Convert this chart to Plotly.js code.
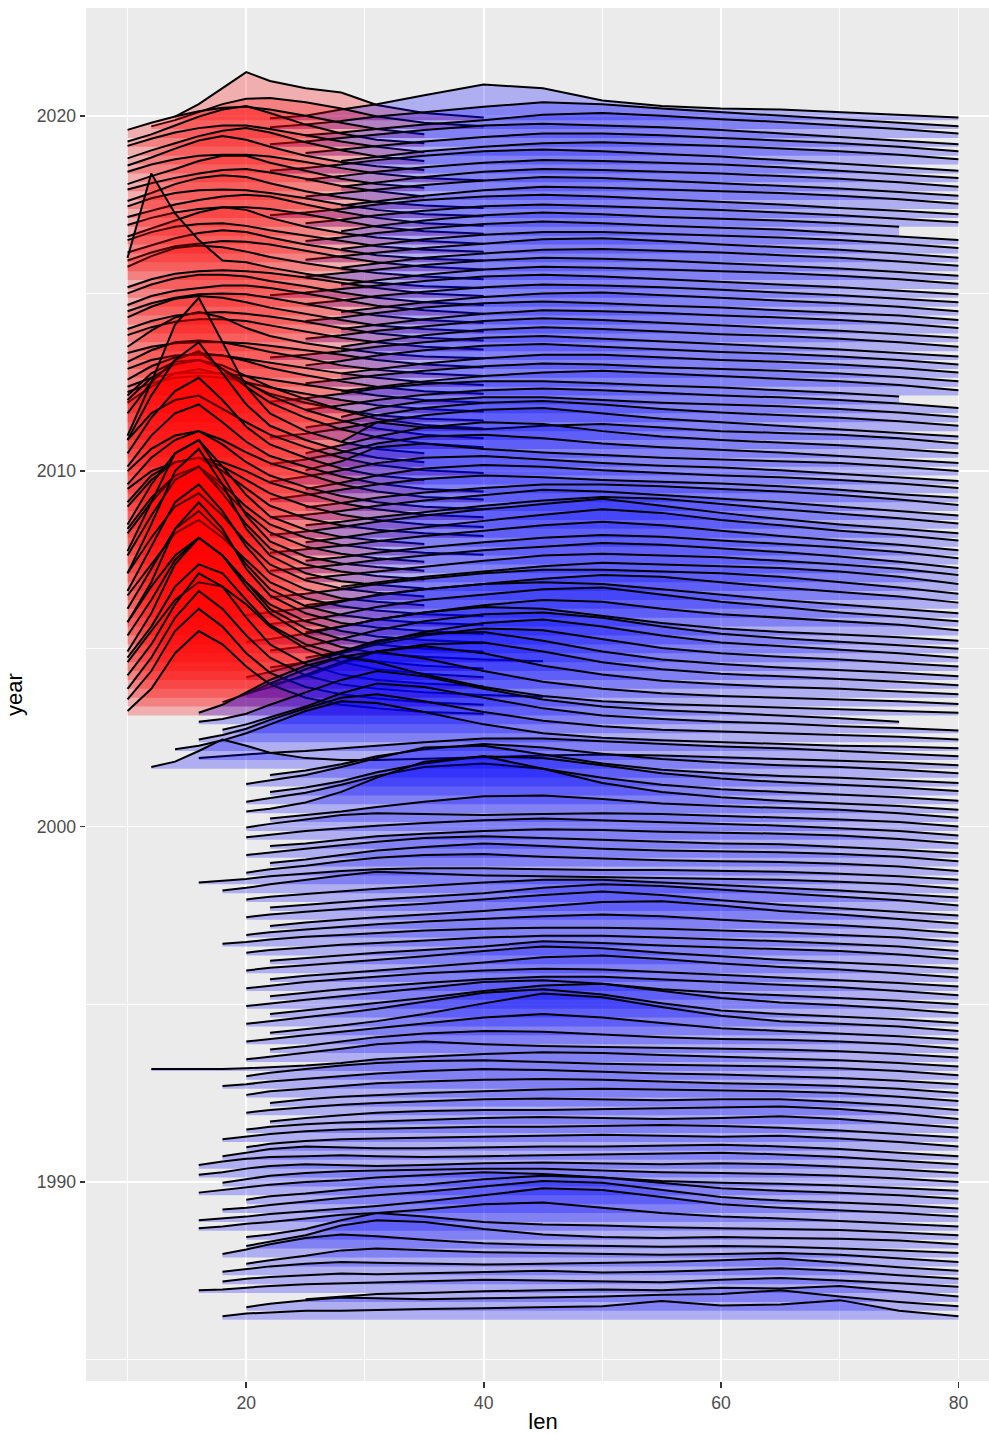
<!DOCTYPE html>
<html>
<head>
<meta charset="utf-8">
<script src="https://cdn.plot.ly/plotly-3.0.1.min.js"></script>
<style>
html,body{margin:0;padding:0;overflow:hidden;background:#fff;}
#chart{width:1007px;height:1434px;}
</style>
</head>
<body>
<div id="chart"></div>
<script>
// grid of len values at which ridge heights are read (len units)
const lenGrid = [10,12,14,16,18,20,22,25,28,31,35,40,45,50,55,60,65,70,75,80];
// quarters: first baseline year and step (one ridge per quarter)
const firstQuarter = 1986.125;
const quarterStep = 0.25;
const nQuarters = 136;
// height unit: one ridge spacing (0.25 year)
const heightUnit = 0.25;

// blue group: [start len, heights on lenGrid from start...], one row per quarter (bottom -> top)
const blueRidges = [
[18,0.4,0.7,0.8,1.0,1.0,1.1,1.2,1.3,1.4,1.5,2.1,1.6,1.7,2.2,1.0,0.4],
[20,0.4,0.8,1.2,1.5,1.4,1.3,1.4,1.5,1.6,1.8,1.9,2.3,1.6,1.0,0.5],
[25,0.3,0.6,0.9,1.0,1.2,1.3,1.4,1.3,1.6,1.5,1.8,1.2,0.6],
[16,0.3,0.4,0.6,0.8,1.0,1.1,1.2,1.3,1.5,1.4,1.3,1.2,1.5,1.7,1.4,1.1,0.7],
[18,0.3,0.6,0.8,1.0,1.2,1.1,1.2,1.4,1.5,1.3,1.4,1.6,1.8,1.5,1.0,0.6],
[18,0.4,0.7,1.0,1.3,1.5,1.4,1.3,1.2,1.3,1.4,1.5,1.7,1.9,1.4,0.9,0.5],
[20,0.3,0.7,1.2,1.8,2.0,1.8,1.6,1.5,1.4,1.3,1.4,1.5,1.3,0.9,0.5],
[18,0.4,0.9,1.5,2.2,2.6,2.4,2.0,1.6,1.4,1.3,1.2,1.3,1.2,1.0,0.8,0.5],
[20,0.3,0.8,1.5,2.6,3.2,3.0,2.2,1.6,1.3,1.2,1.3,1.2,1.1,0.9,0.5],
[20,0.3,0.6,1.2,2.2,3.0,2.6,2.0,1.7,1.6,1.4,1.3,1.2,1.1,0.8,0.5],
[16,0.3,0.5,0.8,1.0,1.4,1.8,2.0,2.4,3.0,3.2,2.6,2.0,1.6,1.4,1.1,0.8,0.5],
[16,0.2,0.4,0.6,0.9,1.2,1.5,1.8,2.3,3.0,3.8,3.6,2.8,2.0,1.6,1.3,1.0,0.6],
[18,0.4,0.6,0.9,1.3,1.7,2.0,2.4,3.0,3.6,3.4,2.6,1.8,1.4,1.2,0.9,0.5],
[20,0.5,0.9,1.2,1.6,1.9,2.2,2.8,3.2,3.0,2.4,1.8,1.5,1.3,1.0,0.6],
[16,0.3,0.6,0.9,1.2,1.5,1.7,2.0,2.3,2.6,2.4,2.0,1.6,1.4,1.3,1.1,0.8,0.5],
[18,0.4,0.8,1.2,1.5,1.7,1.8,1.9,2.0,2.0,1.8,1.6,1.5,1.4,1.2,0.9,0.5],
[16,0.3,0.6,1.0,1.3,1.5,1.4,1.3,1.4,1.6,1.7,1.6,1.5,1.6,1.5,1.2,0.9,0.5],
[16,0.4,0.8,1.1,1.3,1.4,1.5,1.4,1.3,1.4,1.5,1.6,1.7,1.8,1.6,1.3,0.9,0.5],
[18,0.4,0.8,1.2,1.5,1.4,1.3,1.3,1.4,1.5,1.5,1.6,1.7,1.5,1.2,0.8,0.4],
[20,0.4,0.8,1.1,1.3,1.4,1.5,1.6,1.7,1.8,1.7,1.6,1.7,1.4,1.0,0.5],
[18,0.3,0.6,0.9,1.2,1.4,1.5,1.6,1.7,1.7,1.8,1.9,1.8,1.6,1.3,0.9,0.5],
[20,0.4,0.7,1.0,1.2,1.3,1.5,1.7,1.8,1.7,1.6,1.7,1.9,1.6,1.1,0.6],
[22,0.3,0.7,1.0,1.3,1.5,1.6,1.6,1.7,1.8,1.9,2.0,1.7,1.2,0.6],
[20,0.3,0.6,0.9,1.2,1.4,1.6,1.8,1.9,1.8,1.7,1.8,1.8,1.5,1.1,0.6],
[22,0.4,0.8,1.1,1.3,1.5,1.7,1.9,2.0,1.9,1.8,1.7,1.5,1.1,0.6],
[20,0.3,0.7,1.0,1.3,1.6,1.8,2.0,2.1,2.0,1.8,1.6,1.5,1.3,1.0,0.5],
[18,0.3,0.5,0.8,1.1,1.4,1.7,2.0,2.2,2.1,1.9,1.7,1.6,1.4,1.2,0.9,0.5],
[20,0.4,0.8,1.2,1.6,1.9,2.1,2.2,2.0,1.8,1.7,1.6,1.5,1.3,1.0,0.5],
[12,0.2,0.2,0.2,0.2,0.3,0.4,0.6,0.9,1.3,1.6,1.9,2.1,2.0,1.8,1.6,1.4,1.2,0.9,0.5],
[20,0.3,0.6,1.0,1.5,2.0,2.3,2.0,1.8,1.7,1.6,1.5,1.4,1.2,0.9,0.5],
[22,0.4,0.8,1.3,1.8,2.2,2.5,2.4,2.1,1.8,1.6,1.5,1.3,1.0,0.5],
[20,0.3,0.6,1.0,1.4,1.8,2.4,3.0,3.4,3.0,2.4,1.8,1.5,1.2,0.9,0.5],
[22,0.3,0.7,1.1,1.6,2.4,3.6,4.7,4.3,3.2,2.2,1.6,1.3,1.0,0.5],
[20,0.3,0.6,1.0,1.5,2.0,2.8,3.8,4.2,3.6,2.6,1.8,1.4,1.1,0.8,0.4],
[22,0.4,0.8,1.2,1.6,2.2,3.0,3.6,3.8,3.0,2.2,1.7,1.4,1.0,0.5],
[20,0.3,0.6,1.0,1.4,1.8,2.4,3.0,3.2,2.8,2.2,1.8,1.5,1.2,0.9,0.5],
[22,0.4,0.8,1.2,1.5,1.9,2.3,2.6,2.6,2.3,2.0,1.7,1.4,1.0,0.5],
[20,0.3,0.6,1.0,1.3,1.6,2.0,2.3,2.5,2.4,2.1,1.8,1.5,1.2,0.9,0.5],
[22,0.3,0.7,1.0,1.3,1.7,2.2,2.8,3.0,2.6,2.1,1.7,1.4,1.0,0.5],
[20,0.3,0.6,0.9,1.2,1.5,1.9,2.5,3.0,2.8,2.3,1.9,1.5,1.2,0.9,0.5],
[22,0.4,0.7,1.0,1.3,1.6,2.0,2.6,2.4,2.1,1.9,1.7,1.5,1.1,0.6],
[20,0.3,0.6,0.9,1.2,1.4,1.7,2.0,2.2,2.2,2.0,1.8,1.6,1.3,1.0,0.5],
[18,0.3,0.5,0.8,1.1,1.3,1.5,1.8,2.0,2.1,2.1,2.0,1.8,1.6,1.3,1.0,0.5],
[20,0.3,0.6,0.9,1.2,1.5,1.8,2.1,2.4,2.6,2.4,2.0,1.7,1.4,1.0,0.5],
[22,0.3,0.7,1.0,1.3,1.6,2.0,2.5,3.0,3.1,2.6,2.0,1.6,1.1,0.6],
[20,0.3,0.6,0.9,1.2,1.5,1.8,2.3,2.8,3.2,2.8,2.2,1.7,1.3,0.9,0.5],
[22,0.4,0.7,1.0,1.3,1.6,2.0,2.6,3.0,2.8,2.4,2.0,1.6,1.2,0.6],
[20,0.3,0.6,0.9,1.2,1.5,1.8,2.2,2.5,2.5,2.2,1.9,1.6,1.3,0.9,0.5],
[18,0.3,0.6,1.0,1.5,2.0,2.4,2.2,2.0,1.9,1.8,1.7,1.6,1.5,1.3,1.0,0.5],
[16,0.2,0.4,0.6,0.9,1.2,1.5,1.7,1.8,1.8,1.7,1.6,1.6,1.5,1.4,1.2,0.9,0.5],
[20,0.3,0.7,1.1,1.6,2.0,2.3,2.4,2.1,1.9,1.7,1.6,1.5,1.3,1.0,0.5],
[22,0.4,0.8,1.3,1.8,2.2,2.6,2.3,2.0,1.8,1.7,1.6,1.4,1.1,0.6],
[20,0.3,0.6,1.0,1.4,1.8,2.2,2.4,2.2,2.0,1.8,1.6,1.5,1.2,0.9,0.5],
[22,0.3,0.6,1.0,1.4,1.7,2.0,2.2,2.1,1.9,1.8,1.7,1.5,1.1,0.6],
[20,0.3,0.6,1.0,1.3,1.6,1.9,2.2,2.4,2.2,2.0,1.8,1.6,1.3,1.0,0.5],
[20,0.4,0.8,1.3,1.8,2.0,1.9,1.8,1.9,2.0,1.9,1.7,1.5,1.3,1.0,0.5],
[22,0.4,0.8,1.2,1.7,2.3,2.9,3.0,2.6,2.1,1.8,1.6,1.4,1.0,0.5],
[20,0.2,0.5,1.2,2.4,4.0,5.8,6.4,5.0,3.4,2.4,1.8,1.4,1.1,0.8,0.4],
[20,0.3,0.7,1.3,2.2,3.2,4.2,4.6,4.0,3.0,2.2,1.7,1.4,1.1,0.8,0.4],
[22,0.4,0.9,1.6,2.6,3.6,4.4,4.2,3.4,2.5,1.9,1.5,1.2,0.9,0.5],
[20,0.3,0.7,1.3,2.2,3.2,4.4,4.6,3.6,2.6,1.9,1.5,1.2,1.0,0.7,0.4],
[22,0.3,0.8,1.5,2.4,3.2,3.8,3.4,2.7,2.1,1.7,1.4,1.2,0.9,0.5],
[12,0.2,0.8,2.0,3.3,2.6,1.8,1.2,1.0,1.0,1.1,1.3,1.5,1.6,1.5,1.3,1.1,0.9,0.7,0.4],
[16,0.2,0.4,0.6,0.8,1.0,1.3,1.6,2.0,2.4,2.4,2.1,1.8,1.5,1.3,1.0,0.7,0.4],
[14,0.2,0.6,1.2,2.0,3.0,4.5,5.6,5.4,4.4,3.0,2.0,1.5,1.2,1.0,0.8,0.6,0.5,0.3],
[16,0.3,0.8,1.5,2.5,3.8,5.0,5.4,4.6,3.4,2.4,1.8,1.4,1.2,1.0,0.8,0.6,0.3],
[18,0.4,1.0,1.8,3.0,4.5,5.6,5.2,4.0,2.8,2.0,1.6,1.3,1.1,0.8,0.6,0.3],
[16,0.3,0.6,1.2,2.2,3.6,5.0,6.0,5.4,4.0,2.8,2.0,1.6,1.3,1.0,0.7,0.3],
[16,0.3,1.2,2.6,4.0,5.6,6.6,6.0,4.6,3.2,2.2,1.6,1.3,1.1,0.9,0.7,0.5,0.3],
[18,0.5,1.4,2.6,4.2,5.6,6.2,5.4,4.0,2.8,2.0,1.5,1.2,1.0,0.8,0.6,0.3],
[20,0.4,1.2,2.6,4.0,5.2,5.8,5.0,3.6,2.6,1.9,1.5,1.2,1.0,0.7,0.4],
[22,0.5,1.4,2.8,4.2,5.0,5.2,4.2,3.0,2.2,1.7,1.4,1.1,0.8,0.4],
[20,0.3,0.9,2.0,3.2,4.4,5.2,5.4,4.4,3.2,2.3,1.8,1.4,1.1,0.8,0.4],
[22,0.4,1.0,2.0,3.0,4.0,4.8,4.6,3.6,2.6,2.0,1.6,1.3,0.9,0.5],
[25,0.5,1.2,2.2,3.4,4.4,4.8,4.0,3.0,2.2,1.8,1.4,1.0,0.5],
[22,0.3,0.8,1.6,2.6,3.6,4.4,4.6,4.0,3.0,2.2,1.7,1.3,0.9,0.5],
[20,0.3,0.6,1.2,2.0,2.8,3.6,4.2,4.0,3.2,2.4,1.8,1.4,1.1,0.8,0.4],
[25,0.4,1.0,1.8,2.6,3.4,4.0,3.8,3.0,2.4,2.0,1.6,1.2,0.6],
[22,0.3,0.7,1.4,2.2,3.0,3.6,4.2,4.4,3.6,2.8,2.2,1.6,1.1,0.6],
[20,0.3,0.6,1.1,1.8,2.6,3.2,3.8,4.0,3.8,3.2,2.6,2.0,1.5,1.0,0.5],
[25,0.4,0.9,1.5,2.2,2.8,3.4,3.8,3.6,3.0,2.4,1.9,1.4,0.7],
[22,0.3,0.7,1.2,1.8,2.4,3.0,3.4,3.4,3.2,3.0,2.6,2.0,1.4,0.7],
[28,0.5,1.0,1.6,2.2,2.8,3.2,3.0,2.8,2.6,2.2,1.6,0.8],
[25,0.4,0.8,1.2,1.8,2.4,3.0,3.2,3.0,2.8,2.4,2.0,1.5,0.8],
[22,0.3,0.6,1.0,1.5,2.0,2.6,3.0,3.4,3.2,2.8,2.4,1.9,1.3,0.6],
[25,0.4,0.8,1.3,1.9,2.5,3.0,3.3,3.1,2.7,2.3,1.9,1.4,0.7],
[22,0.3,0.7,1.1,1.6,2.2,2.8,3.4,3.8,3.4,2.8,2.2,1.7,1.2,0.6],
[25,0.5,1.0,1.6,2.2,2.9,3.6,4.2,3.8,3.0,2.4,1.8,1.3,0.7],
[22,0.3,0.7,1.2,1.8,2.5,3.2,3.8,4.4,3.6,2.8,2.1,1.5,1.0,0.5],
[25,0.4,0.8,1.3,1.9,2.6,3.2,3.6,3.4,2.8,2.2,1.7,1.2,0.6],
[22,0.3,0.6,1.0,1.6,2.2,2.8,3.4,3.2,2.8,2.4,2.0,1.5,1.0,0.5],
[25,0.4,0.9,1.5,2.1,2.6,3.0,3.0,2.8,2.5,2.2,1.8,1.3,0.7],
[22,0.3,0.8,1.4,2.0,2.6,3.0,2.8,2.5,2.3,2.1,1.8,1.4,0.9,0.5],
[25,0.5,1.2,2.0,2.8,3.2,3.0,2.6,2.3,2.0,1.8,1.5,1.1,0.6],
[22,0.3,0.9,1.6,2.4,3.0,3.2,2.8,2.4,2.1,1.9,1.6,1.2,0.8,0.4],
[25,0.6,1.6,3.2,3.6,3.0,2.6,2.3,2.0,1.8,1.6,1.4,1.0,0.5],
[22,0.3,0.8,1.6,2.6,3.4,3.6,3.2,2.6,2.2,1.9,1.6,1.2,0.8,0.4],
[25,0.5,1.4,2.4,3.4,4.0,3.8,3.0,2.4,2.0,1.7,1.4,1.0,0.5],
[28,0.8,3.0,2.4,2.2,2.6,2.8,2.4,2.0,1.8,1.6,1.2,0.6],
[22,0.3,0.7,1.3,2.0,2.8,3.4,3.6,3.0,2.4,2.0,1.6,1.2,0.8,0.4],
[25,0.4,1.0,1.8,2.6,3.2,3.4,3.0,2.5,2.1,1.8,1.5,1.1,0.6],
[28,0.6,1.6,2.4,2.8,2.8,2.5,2.2,2.0,1.8,1.5,1.1,0.6],
[25,0.4,0.9,1.5,2.1,2.6,2.8,2.6,2.3,2.0,1.8,1.5,1.1,0.6],
[22,0.3,0.7,1.2,1.8,2.3,2.6,2.6,2.4,2.1,1.9,1.6,1.3,0.9],
[28,0.5,1.0,1.6,2.2,2.6,2.8,2.5,2.2,1.9,1.6,1.2,0.6],
[25,0.4,0.8,1.3,1.8,2.3,2.6,2.5,2.2,2.0,1.8,1.5,1.1,0.6],
[28,0.5,1.0,1.6,2.2,2.6,2.6,2.3,2.0,1.8,1.5,1.1,0.6],
[25,0.4,0.9,1.5,2.1,2.6,2.8,2.5,2.2,1.9,1.7,1.4,1.0,0.5],
[22,0.3,0.6,1.0,1.5,2.0,2.5,2.7,2.4,2.1,1.8,1.5,1.2,0.8,0.4],
[28,0.5,1.1,1.8,2.4,2.7,2.5,2.2,1.9,1.7,1.4,1.0,0.5],
[25,0.4,0.8,1.3,1.8,2.4,2.7,2.5,2.2,1.9,1.6,1.3,0.9,0.5],
[28,0.5,1.0,1.6,2.2,2.6,2.5,2.3,2.0,1.8,1.5,1.1,0.6],
[25,0.4,0.8,1.3,1.9,2.4,2.6,2.4,2.1,1.9,1.6,1.3,1.0,0.5],
[28,0.4,0.9,1.5,2.1,2.5,2.6,2.3,2.0,1.7,1.4,1.0,0.5],
[25,0.3,0.7,1.2,1.7,2.2,2.5,2.4,2.2,1.9,1.6,1.3,0.9,0.5],
[22,0.3,0.6,1.0,1.4,1.9,2.4,2.6,2.4,2.1,1.8,1.5,1.2,0.8,0.4],
[28,0.5,1.0,1.6,2.2,2.5,2.4,2.2,2.0,1.8,1.5,1.1,0.6],
[25,0.4,0.8,1.2,1.7,2.2,2.5,2.4,2.2,1.9,1.6,1.3,0.9,0.5],
[28,0.4,0.9,1.5,2.0,2.4,2.5,2.3,2.1,1.8,1.5,1.1,0.6],
[25,0.3,0.7,1.1,1.6,2.1,2.6,2.7,2.4,2.0,1.7,1.4,1.0,0.5],
[28,0.5,1.0,1.6,2.1,2.4,2.4,2.2,2.0,1.8,1.5,1.1,0.6],
[25,0.4,0.8,1.3,1.8,2.3,2.6,2.4,2.1,1.9,1.7,1.3,0.9,0.5],
[28,0.5,1.1,1.7,2.3,2.6,2.4,2.1,1.9,1.7,1.4,1.0],
[25,0.4,0.8,1.3,1.8,2.3,2.5,2.3,2.1,1.9,1.6,1.3,0.9,0.5],
[22,0.3,0.6,1.0,1.5,2.0,2.4,2.6,2.4,2.1,1.8,1.5,1.1,0.8,0.4],
[28,0.4,0.9,1.5,2.1,2.5,2.4,2.2,2.0,1.8,1.5,1.1,0.6],
[25,0.4,0.8,1.2,1.7,2.2,2.6,2.5,2.2,1.9,1.6,1.3,0.9,0.5],
[28,0.5,1.0,1.6,2.2,2.5,2.4,2.2,2.0,1.7,1.4,1.0,0.5],
[25,0.3,0.7,1.2,1.7,2.2,2.5,2.4,2.2,2.0,1.7,1.3,0.9,0.5],
[22,0.3,0.6,1.0,1.5,2.0,2.5,2.7,2.5,2.2,1.9,1.5,1.1,0.7,0.3],
[28,0.4,0.9,1.5,2.0,2.4,2.5,2.3,2.1,1.8,1.5,1.1,0.6],
[25,0.3,0.7,1.1,1.6,2.1,2.5,2.5,2.3,2.0,1.7,1.4,1.0,0.5],
[22,0.3,0.6,1.0,1.4,1.9,2.4,2.6,2.4,2.2,1.9,1.5,1.1,0.7,0.3],
[25,0.3,0.6,1.0,1.5,2.0,2.6,2.8,2.5,2.1,1.8,1.4,1.0,0.5],
[22,0.2,0.5,0.9,1.4,1.9,2.5,3.0,2.8,2.3,1.9,1.5,1.1,0.7,0.3],
[22,0.2,0.5,1.2,1.8,2.8,4.0,3.6,2.2,1.6,1.3,1.2,0.9,0.6,0.3]
];

// red group: starts at quarter index redFirstIndex (2003 Q1), same row format
const redFirstIndex = 68;
const redRidges = [
[10,0.5,3.0,7.0,9.5,8.0,5.5,3.5,2.0,1.2,0.8,0.4,0.2],
[10,0.8,4.0,8.5,11.0,9.0,6.0,3.8,2.2,1.4,0.9,0.5,0.2],
[10,1.0,4.5,9.0,12.0,10.0,7.0,4.5,2.5,1.5,1.0,0.6,0.3,0.1],
[10,1.5,5.0,9.5,13.0,11.5,8.0,5.0,2.8,1.6,1.0,0.6,0.3],
[10,2.0,5.5,9.0,11.0,10.5,8.5,6.0,3.5,2.0,1.2,0.7,0.3],
[10,1.5,5.0,9.5,12.0,11.0,8.0,5.2,3.0,1.8,1.1,0.6,0.3],
[10,1.2,5.5,11.0,14.0,12.0,8.5,5.5,3.0,1.7,1.0,0.6,0.3,0.1],
[10,2.0,6.0,10.5,13.0,11.0,8.0,5.0,2.8,1.6,1.0,0.5,0.2],
[10,2.5,6.5,10.0,12.0,10.0,7.0,4.5,2.6,1.5,0.9,0.5,0.2],
[10,1.5,6.0,12.0,15.0,12.0,7.5,4.5,2.5,1.4,0.9,0.5,0.2],
[10,2.0,6.5,11.0,13.0,10.5,7.0,4.2,2.3,1.3,0.8,0.4,0.2],
[10,2.5,6.0,9.5,11.0,9.0,6.5,4.0,2.2,1.3,0.8,0.4,0.2],
[10,2.0,7.0,12.0,14.0,11.0,7.0,4.0,2.2,1.2,0.8,0.4],
[10,3.0,7.0,10.5,12.0,9.5,6.5,4.0,2.2,1.3,0.8,0.4],
[10,2.0,7.5,13.5,16.0,12.0,7.0,4.0,2.0,1.1,0.7,0.3],
[10,3.0,7.5,11.5,13.0,10.0,6.5,3.8,2.0,1.2,0.7,0.3],
[10,2.5,8.0,13.5,15.0,11.0,6.5,3.6,1.9,1.1,0.7,0.3],
[10,3.5,7.0,10.0,11.0,8.5,5.8,3.6,2.0,1.2,0.7,0.3],
[10,3.0,6.5,9.0,10.0,8.0,5.5,3.5,2.0,1.2,0.7,0.3,0.1],
[10,2.5,7.0,10.5,12.0,9.0,5.8,3.4,1.9,1.1,0.7,0.3],
[10,3.5,6.5,8.5,9.0,7.5,5.5,3.6,2.2,1.4,0.9,0.5,0.2],
[10,3.0,6.0,7.5,8.0,7.0,5.5,4.0,2.6,1.6,1.0,0.5,0.2],
[10,3.5,5.5,6.5,7.0,6.5,5.5,4.2,3.0,1.9,1.2,0.6,0.3],
[10,3.0,6.0,8.0,9.0,7.5,5.5,4.0,2.7,1.7,1.0,0.5,0.2],
[10,3.5,6.0,7.5,8.0,7.0,5.6,4.4,3.2,2.0,1.2,0.6,0.3],
[10,3.0,6.5,9.0,10.0,8.0,5.8,4.2,3.0,1.9,1.1,0.5,0.2],
[10,3.5,7.5,10.5,12.0,9.5,6.5,4.5,3.0,1.8,1.0,0.5],
[10,4.0,7.0,8.5,9.0,7.5,6.0,4.6,3.2,2.0,1.2,0.6,0.3],
[10,3.0,8.0,12.0,14.0,10.5,7.0,4.6,3.0,1.8,1.0,0.5],
[10,2.5,8.5,15.0,18.0,13.0,8.0,5.0,3.0,1.8,1.0,0.5],
[10,4.0,7.5,10.0,11.0,9.0,7.0,5.2,3.5,2.2,1.3,0.6,0.2],
[10,4.5,7.0,8.5,9.0,8.0,6.5,5.0,3.4,2.2,1.3,0.6,0.2],
[10,4.0,6.5,7.8,8.0,7.4,6.2,5.0,3.6,2.4,1.4,0.7,0.3],
[10,2.2,4.0,5.5,6.0,5.4,4.4,3.2,2.2,1.4,0.8,0.4,0.2],
[10,2.4,3.4,4.0,4.2,4.0,3.5,2.9,2.2,1.5,0.9,0.5,0.2],
[10,2.0,3.0,3.5,3.6,3.5,3.2,2.8,2.2,1.6,1.0,0.5,0.2],
[10,1.8,3.3,4.3,4.8,4.5,3.9,3.1,2.3,1.6,1.0,0.5,0.2],
[10,2.0,3.0,3.5,3.6,3.5,3.1,2.7,2.1,1.5,1.0,0.5,0.2],
[10,1.8,3.1,4.0,4.2,4.0,3.5,2.9,2.2,1.4,0.9,0.5,0.2],
[10,1.8,2.5,2.9,3.0,3.0,2.9,2.6,2.1,1.6,1.0,0.5,0.2],
[10,1.5,3.3,4.8,5.4,4.8,3.6,2.7,1.9,1.3,0.8,0.4,0.2],
[10,1.8,2.7,3.3,3.6,3.6,3.4,2.9,2.2,1.5,1.0,0.5,0.2],
[10,1.5,2.4,3.0,3.3,3.4,3.2,2.9,2.3,1.6,1.0,0.5,0.2],
[10,1.8,3.0,3.9,4.2,4.0,3.5,2.9,2.2,1.5,0.9,0.5,0.2],
[10,1.5,2.4,3.0,3.4,3.5,3.4,3.0,2.3,1.6,1.0,0.5,0.2],
[10,1.2,2.2,2.8,3.1,3.4,3.4,3.1,2.5,1.8,1.1,0.6,0.2],
[10,1.5,2.5,3.2,3.6,3.6,3.4,2.9,2.3,1.6,1.0,0.5,0.2],
[10,1.2,2.1,2.7,3.0,3.1,3.0,2.8,2.3,1.7,1.1,0.5,0.2],
[10,3.5,13.0,8.5,5.5,3.2,3.0,2.4,1.7,1.1,0.7,0.3,0.1],
[10,1.5,2.7,3.6,3.9,3.7,3.2,2.6,1.9,1.3,0.8,0.4,0.1],
[10,1.2,2.1,2.8,3.1,3.4,3.3,3.0,2.3,1.6,1.0,0.5,0.2],
[10,1.1,1.9,2.7,3.3,3.6,3.4,2.8,2.0,1.4,0.8,0.4,0.2],
[10,1.5,2.4,3.0,3.3,3.4,3.1,2.6,2.0,1.4,0.8,0.4,0.2],
[10,0.9,1.8,2.7,3.6,4.2,3.9,3.0,2.0,1.3,0.8,0.4,0.1],
[10,1.2,2.0,2.6,3.0,3.2,3.2,3.0,2.4,1.7,1.0,0.5,0.2],
[10,1.1,1.8,2.5,3.0,3.4,3.6,3.4,2.5,1.7,1.0,0.4,0.1],
[10,1.3,2.2,2.8,3.1,3.2,3.1,2.8,2.2,1.5,0.9,0.4,0.2],
[10,0.9,1.8,2.8,3.5,3.8,3.6,2.9,2.0,1.3,0.8,0.4,0.1],
[10,1.2,1.9,2.5,3.0,3.4,3.5,3.1,2.4,1.6,1.0,0.4],
[10,0.8,1.7,2.5,3.4,4.0,4.0,3.2,2.3,1.4,0.8,0.4],
[10,1.2,2.0,2.6,3.0,3.1,3.1,2.9,2.3,1.6,1.0,0.5,0.2],
[10,0.9,1.8,2.8,3.7,4.2,3.8,3.0,2.0,1.3,0.8,0.4],
[10,0.7,1.6,2.4,3.2,3.8,4.1,3.6,2.5,1.6,0.9,0.4],
[10,1.1,1.9,2.6,3.1,3.4,3.4,3.0,2.3,1.6,1.0,0.4],
[10,0.6,1.4,2.4,3.4,4.2,4.6,3.8,2.5,1.5,0.8,0.4],
[10,0.9,1.7,2.4,3.0,3.4,3.5,3.2,2.5,1.7,1.0,0.4],
[12,0.3,1.0,1.9,2.8,3.4,3.5,3.0,2.3,1.4,0.7,0.3],
[14,0.4,1.8,3.6,5.4,4.4,3.6,3.1,1.7,0.8,0.3]
];

const redFill = 'rgba(255,0,0,0.26)';
const blueFill = 'rgba(0,0,255,0.26)';

const traces = [];
function addRidge(row, base, fillColor) {
  const i0 = lenGrid.indexOf(row[0]);
  const xs = [], ys = [];
  for (let j = 1; j < row.length && i0 + j - 1 < lenGrid.length; j++) {
    xs.push(lenGrid[i0 + j - 1]);
    ys.push(base + row[j] * heightUnit);
  }
  traces.push({
    type: 'scatter', mode: 'lines',
    x: xs.concat([xs[xs.length - 1], xs[0]]),
    y: ys.concat([base, base]),
    fill: 'toself', fillcolor: fillColor,
    line: {width: 0}, hoverinfo: 'skip', showlegend: false
  });
  traces.push({
    type: 'scatter', mode: 'lines', x: xs, y: ys,
    line: {color: '#000000', width: 2},
    hoverinfo: 'skip', showlegend: false
  });
}

for (let k = nQuarters - 1; k >= 0; k--) {
  const base = firstQuarter + k * quarterStep;
  if (k >= redFirstIndex) addRidge(redRidges[k - redFirstIndex], base, redFill);
  addRidge(blueRidges[k], base, blueFill);
}

const tickFont = {family: 'Liberation Sans, Arial, sans-serif', size: 17.6, color: '#4D4D4D'};
const titleFont = {family: 'Liberation Sans, Arial, sans-serif', size: 22, color: '#000000'};

const layout = {
  width: 1007, height: 1434,
  margin: {l: 86, r: 7, t: 8, b: 53},
  paper_bgcolor: '#FFFFFF', plot_bgcolor: '#EBEBEB',
  showlegend: false,
  xaxis: {
    range: [6.5, 83.5], tickmode: 'linear', tick0: 0, dtick: 20,
    showgrid: true, gridcolor: '#FFFFFF', gridwidth: 1.8,
    zeroline: false, showline: false,
    ticks: 'outside', ticklen: 5.5, tickwidth: 1.7, tickcolor: '#333333',
    tickfont: tickFont,
    minor: {tick0: 0, dtick: 10, showgrid: true, gridcolor: '#FFFFFF', gridwidth: 0.9, ticks: ''},
    title: {text: 'len', font: titleFont, standoff: 8}
  },
  yaxis: {
    range: [1984.40, 2023.03], tickmode: 'linear', tick0: 1990, dtick: 10,
    showgrid: true, gridcolor: '#FFFFFF', gridwidth: 1.8,
    zeroline: false, showline: false,
    ticks: 'outside', ticklen: 5.5, tickwidth: 1.7, tickcolor: '#333333',
    tickfont: tickFont,
    minor: {tick0: 1985, dtick: 5, showgrid: true, gridcolor: '#FFFFFF', gridwidth: 0.9, ticks: ''},
    title: {text: 'year', font: titleFont, standoff: 8}
  }
};

Plotly.newPlot('chart', traces, layout, {staticPlot: true, displayModeBar: false});
</script>
</body>
</html>
